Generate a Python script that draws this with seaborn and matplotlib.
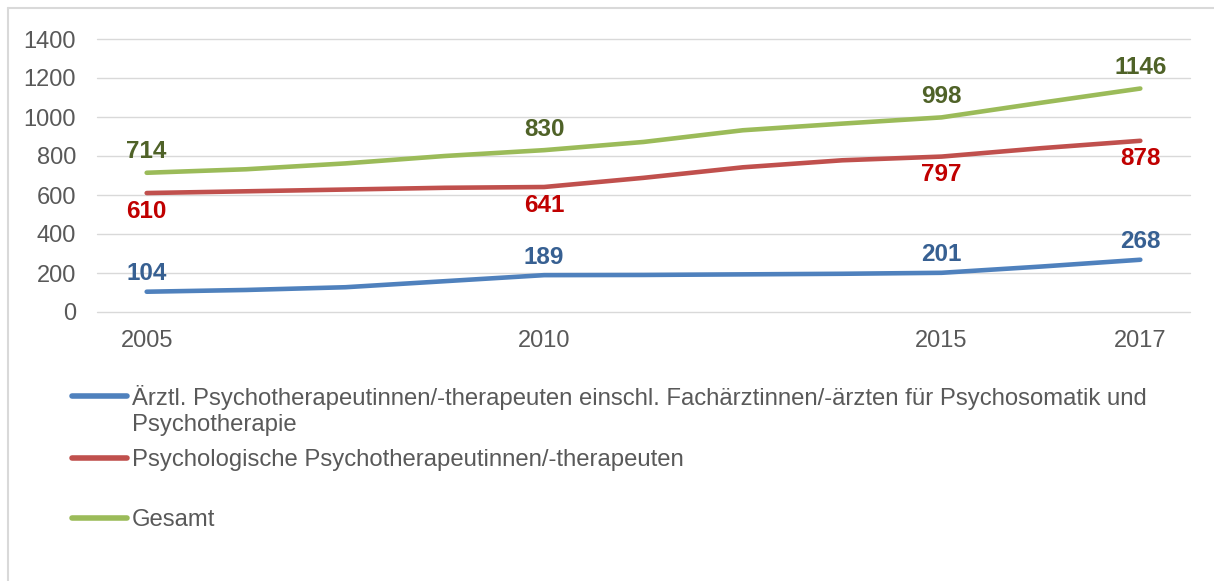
import pandas as pd
import seaborn as sns
import matplotlib.pyplot as plt
from matplotlib.lines import Line2D

# Daten
jahre = ["2005", "", "", "", "2010", "", "", "", "2015", "", "2017"]
aerztl = [104, 113, 127, 158, 189, 190, 193, 196, 201, 233, 268]
psychol = [610, 619, 628, 637, 641, 688, 742, 778, 797, 840, 878]
gesamt = [714, 732, 762, 800, 830, 872, 932, 966, 998, 1073, 1146]

# Indizes der beschrifteten Punkte
label_idx = [0, 4, 8, 10]

namen = [
    "Ärztl. Psychotherapeutinnen/-therapeuten einschl. Fachärztinnen/-ärzten für Psychosomatik und",
    "Psychologische Psychotherapeutinnen/-therapeuten",
    "Gesamt",
]
linien_farben = ["#4F81BD", "#C0504D", "#9BBB59"]
label_farben = ["#376092", "#C00000", "#4F6228"]

df = pd.DataFrame({
    "pos": list(range(len(jahre))) * 3,
    "wert": aerztl + psychol + gesamt,
    "reihe": [namen[0]] * len(jahre) + [namen[1]] * len(jahre) + [namen[2]] * len(jahre),
})

sns.set_theme(style="white")
plt.rcParams["font.family"] = ["Liberation Sans", "DejaVu Sans"]

fig = plt.figure(figsize=(12.14, 5.81), dpi=100)
ax = fig.add_axes([97 / 1214, 1 - 312 / 581, (1190 - 97) / 1214, (312 - 39) / 581])

sns.lineplot(data=df, x="pos", y="wert", hue="reihe", palette=linien_farben,
             linewidth=3.3, legend=False, ax=ax, solid_capstyle="round")

ax.set_xlim(-0.5, len(jahre) - 0.5)
ax.set_ylim(0, 1400)
ax.set_yticks(range(0, 1401, 200))
ax.set_xticks(range(len(jahre)))
ax.set_xticklabels(jahre)
ax.grid(axis="y", color="#D9D9D9", linewidth=1.0)
for gl in ax.get_ygridlines():
    gl.set_clip_on(False)
ax.set_axisbelow(True)
for s in ax.spines.values():
    s.set_visible(False)
ax.tick_params(axis="both", length=0, labelsize=17, colors="#595959")
ax.tick_params(axis="y", pad=15)
ax.tick_params(axis="x", pad=13)
ax.set_xlabel("")
ax.set_ylabel("")

# Datenbeschriftungen
werte_listen = [aerztl, psychol, gesamt]
offsets = [13, -13, 15]
for werte, farbe, dy in zip(werte_listen, label_farben, offsets):
    for i in label_idx:
        ax.annotate(f"{werte[i]}", (i, werte[i]), xytext=(0, dy), textcoords="offset points",
                    ha="center", va="center", fontsize=17.5, fontweight="bold", color=farbe)

# Legende
lines = ax.get_lines()
leg_y = [397, 460, 520]
for line, name, y in zip(lines, namen, leg_y):
    h = Line2D([], [], color=line.get_color(), linewidth=4, solid_capstyle="round")
    fig.legend([h], [name], loc="center left", bbox_to_anchor=(72 / 1214, 1 - y / 581),
               frameon=False, borderpad=0, borderaxespad=0, handlelength=2.3,
               handletextpad=0.22, fontsize=17.2, labelcolor="#595959")
fig.text(132 / 1214, 1 - 425 / 581, "Psychotherapie", fontsize=17.2, color="#595959",
         ha="left", va="center")

# Rahmen
fig.add_artist(Line2D([8 / 1214, 1.0], [1 - 8 / 581, 1 - 8 / 581], color="#D9D9D9", linewidth=1.5,
                      transform=fig.transFigure))
fig.add_artist(Line2D([8 / 1214, 8 / 1214], [0, 1 - 8 / 581], color="#D9D9D9", linewidth=1.5,
                      transform=fig.transFigure))

fig.savefig("out.png", dpi=100)
